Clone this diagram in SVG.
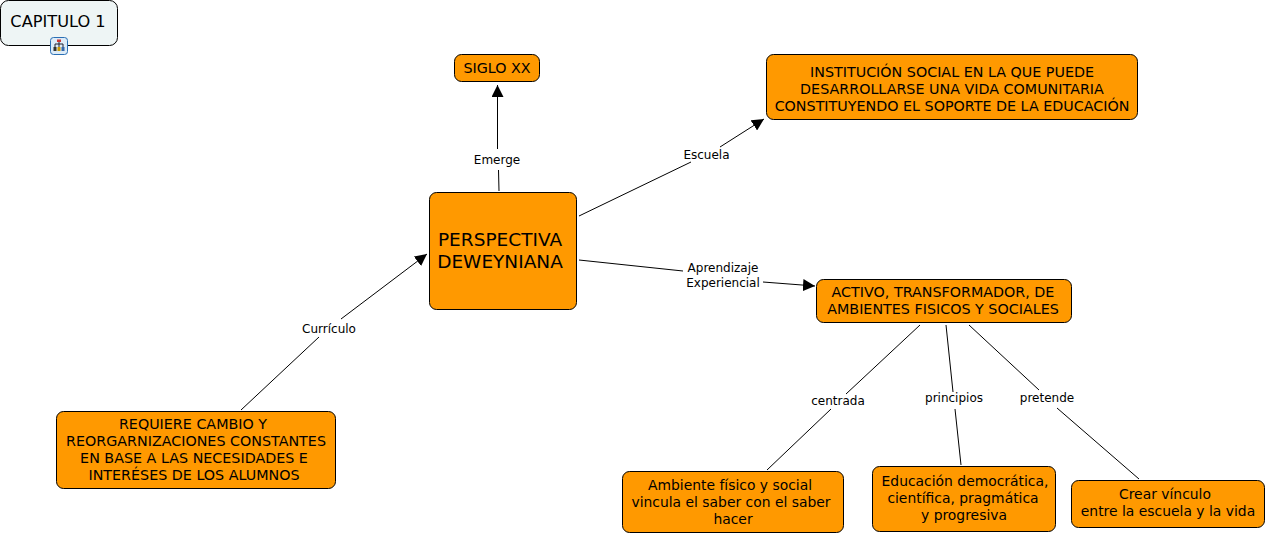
<svg xmlns="http://www.w3.org/2000/svg" width="1267" height="535" viewBox="0 0 1267 535">
<defs>
<marker id="arrow" markerUnits="userSpaceOnUse" markerWidth="14" markerHeight="12" refX="12" refY="6" orient="auto"><path d="M0 0L12 6L0 12Z" fill="#000"/></marker>
</defs>
<style>
text{font-family:"DejaVu Sans",Verdana,sans-serif;font-size:14.300px;text-anchor:middle;fill:#000}
.n{fill:#ff9900;stroke:#000;stroke-width:1}
.c{fill:none;stroke:#000;stroke-width:1}
.a{marker-end:url(#arrow)}
.l{font-size:12px}
.s{font-size:13.900px}
</style>
<rect width="1267" height="535" fill="#fff"/>
<g id="connectors">
<path class="c" d="M499 191L498.500 170"/>
<path class="c a" d="M497.500 149V85"/>
<path class="c" d="M579 216L691 162"/>
<path class="c a" d="M720 147L764 119"/>
<path class="c" d="M579 260L683 271"/>
<path class="c a" d="M763 282L815 286"/>
<path class="c" d="M241 410L319 337"/>
<path class="c a" d="M341 319L427 254"/>
<path class="c" d="M920 325L846 394"/>
<path class="c" d="M831 409L767 470"/>
<path class="c" d="M946 325L953 392"/>
<path class="c" d="M955 409L961 465"/>
<path class="c" d="M969 325L1039 390"/>
<path class="c" d="M1057 408L1139 479"/>
<text class="l" x="497" y="164">Emerge</text>
<text class="l" x="706.500" y="159">Escuela</text>
<text class="l"><tspan x="723" y="272">Aprendizaje</tspan><tspan x="723" y="287">Experiencial</tspan></text>
<text class="l" x="329" y="333">Currículo</text>
<text class="l" x="838" y="405">centrada</text>
<text class="l" x="954" y="402">principios</text>
<text class="l" x="1047" y="402">pretende</text>
</g>
<g id="capitulo"><rect x="0.500" y="0.500" width="117" height="45" rx="8" fill="#eef5f5" stroke="#000"/><text x="58" y="27" style="font-size:16.200px">CAPITULO 1</text>
<g id="icon"><rect x="50.500" y="37.500" width="17" height="17" rx="3" fill="#dcebf7" stroke="#2a6fb5"/><path d="M59 41V44M55 47V44H63V47M59 44V47" fill="none" stroke="#223"/><rect x="57" y="39.500" width="4" height="2.500" fill="#c33"/><rect x="53.500" y="47" width="3" height="4" fill="#333"/><rect x="57.500" y="47" width="3" height="4" fill="#c90"/><rect x="61.500" y="47" width="3" height="4" fill="#36a"/></g></g>
<g id="siglo"><rect class="n" x="454.500" y="54.500" width="85" height="27" rx="7"/><text x="497" y="73">SIGLO XX</text></g>
<g id="institucion"><rect class="n" x="766.500" y="54.500" width="371" height="65" rx="7"/><text><tspan x="952" y="77">INSTITUCIÓN SOCIAL EN LA QUE PUEDE</tspan><tspan x="952" y="94">DESARROLLARSE UNA VIDA COMUNITARIA</tspan><tspan x="952" y="111">CONSTITUYENDO EL SOPORTE DE LA EDUCACIÓN</tspan></text></g>
<g id="perspectiva"><rect class="n" x="429.500" y="192.500" width="147" height="117" rx="7"/><text style="font-size:18.500px"><tspan x="500" y="246">PERSPECTIVA</tspan><tspan x="500" y="268">DEWEYNIANA</tspan></text></g>
<g id="activo"><rect class="n" x="816.500" y="279.500" width="255" height="43" rx="7"/><text><tspan x="943" y="297">ACTIVO, TRANSFORMADOR, DE</tspan><tspan x="943" y="314">AMBIENTES FISICOS Y SOCIALES</tspan></text></g>
<g id="requiere"><rect class="n" x="56.500" y="411.500" width="279" height="77" rx="7"/><text><tspan x="193" y="429">REQUIERE CAMBIO Y</tspan><tspan x="196" y="446">REORGARNIZACIONES CONSTANTES</tspan><tspan x="194" y="463">EN BASE A LAS NECESIDADES E</tspan><tspan x="194" y="480">INTERÉSES DE LOS ALUMNOS</tspan></text></g>
<g id="ambiente"><rect class="n" x="622.500" y="471.500" width="221" height="61" rx="7"/><text class="s"><tspan x="730" y="490">Ambiente físico y social</tspan><tspan x="731" y="507">vincula el saber con el saber</tspan><tspan x="733" y="524">hacer</tspan></text></g>
<g id="educacion"><rect class="n" x="872.500" y="466.500" width="183" height="65" rx="7"/><text class="s"><tspan x="965" y="486">Educación democrática,</tspan><tspan x="963" y="503">científica, pragmática</tspan><tspan x="964" y="520">y progresiva</tspan></text></g>
<g id="crear"><rect class="n" x="1071.500" y="480.500" width="193" height="47" rx="7"/><text class="s"><tspan x="1165" y="499">Crear vínculo</tspan><tspan x="1168" y="516">entre la escuela y la vida</tspan></text></g>
</svg>
